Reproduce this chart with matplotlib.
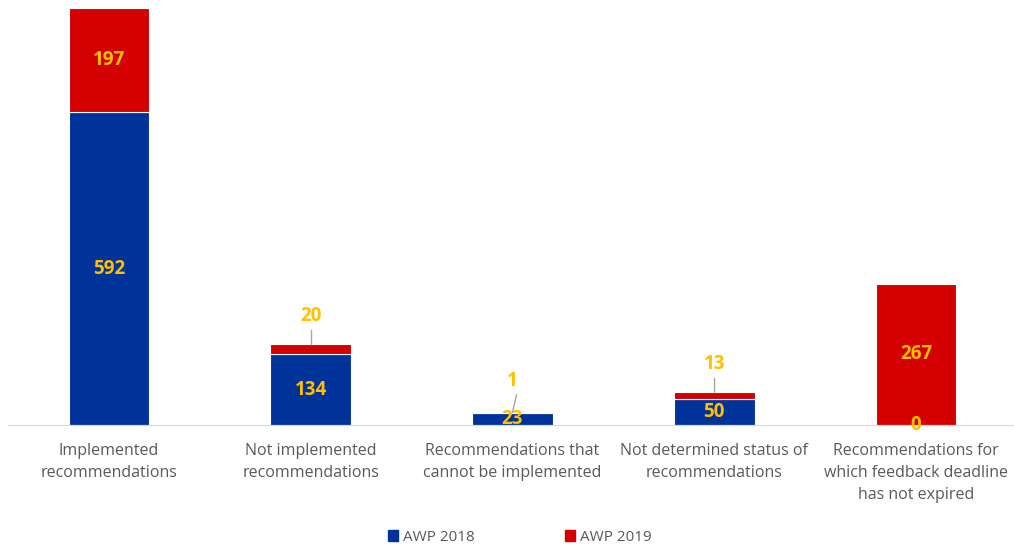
import matplotlib
matplotlib.use("Agg")
import matplotlib.pyplot as plt
from matplotlib.patches import Patch

categories = ["Implemented\nrecommendations", "Not implemented\nrecommendations",
              "Recommendations that\ncannot be implemented", "Not determined status of\nrecommendations",
              "Recommendations for\nwhich feedback deadline\nhas not expired"]
awp2018 = [592, 134, 23, 50, 0]
awp2019 = [197, 20, 1, 13, 267]

blue = "#003399"
red = "#D40000"
gold = "#FFC000"
gray = "#595959"

plt.rcParams['font.family'] = ['Open Sans', 'DejaVu Sans']
fig = plt.figure(figsize=(10.14, 5.46), dpi=100)
ax = fig.add_axes([8/1014, 121/546, 1009/1014, 417/546])
x = list(range(len(categories)))
w = 0.4
ax.bar(x, awp2018, width=w, color=blue, edgecolor="white", linewidth=0.8, label="AWP 2018")
ax.bar(x, awp2019, width=w, bottom=awp2018, color=red, edgecolor="white", linewidth=0.8, label="AWP 2019")
ax.set_xlim(-0.5, 4.5)
ax.set_ylim(0, 789)
for s in ["top", "right", "left"]:
    ax.spines[s].set_visible(False)
ax.spines["bottom"].set_color("#D9D9D9")
ax.set_yticks([])
ax.set_xticks(x)
ax.set_xticklabels(categories, fontsize=11.5, color=gray, linespacing=1.5)
ax.tick_params(axis="x", length=0, pad=13)

fs = 13.5
for i in x:
    b, r = awp2018[i], awp2019[i]
    ax.text(i, b / 2, str(b), ha="center", va="center", color=gold, fontsize=fs, fontweight="bold")
    if r >= 60:
        ax.text(i, b + r / 2, str(r), ha="center", va="center", color=gold, fontsize=fs, fontweight="bold")
    else:
        top = b + r
        ly = top + 52 if r > 5 else top + 60
        ax.text(i, ly, str(r), ha="center", va="center", color=gold, fontsize=fs, fontweight="bold")
        x0 = i if r > 5 else i + 0.02
        ax.plot([x0, i], [ly - 27, top], color="#A6A6A6", linewidth=1)

ax.legend(handles=[Patch(color=blue, label="AWP 2018"), Patch(color=red, label="AWP 2019")],
          loc="lower center", bbox_to_anchor=(0.507, -0.32), ncol=2, frameon=False,
          fontsize=11, handlelength=0.7, handleheight=0.7, columnspacing=5.9, handletextpad=0.3,
          labelcolor=gray)

fig.savefig("out.png", dpi=100)
